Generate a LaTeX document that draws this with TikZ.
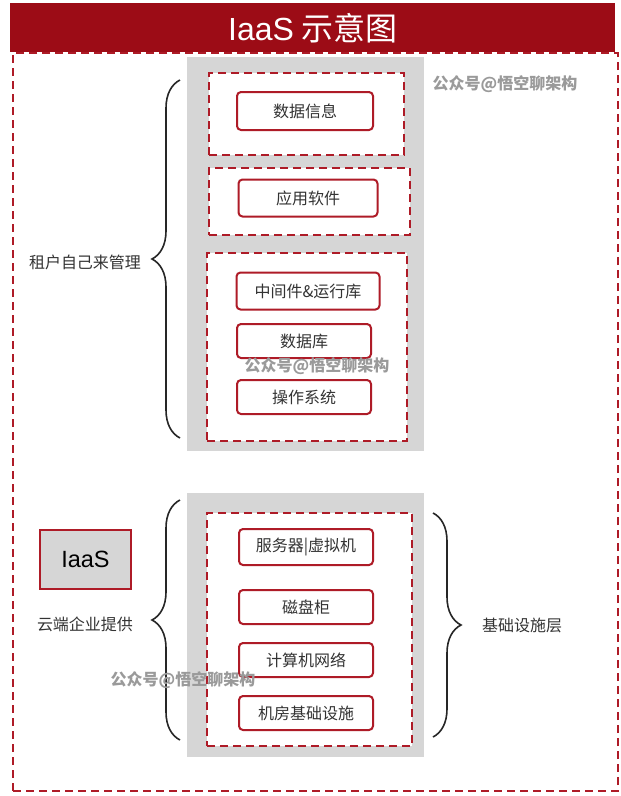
\documentclass[tikz,border=0pt]{standalone}
\usepackage{fontspec}
\setmainfont{Noto Sans CJK SC}
\newfontfamily\latinfont{Liberation Sans}
\usepackage{tikz}
\usetikzlibrary{positioning,decorations.pathreplacing}
\definecolor{IaasRed}{HTML}{9C0C16}
\definecolor{IaasBoxRed}{HTML}{AE1B27}
\definecolor{IaasGray}{HTML}{D6D6D6}
\definecolor{IaasText}{HTML}{333333}
\definecolor{IaasMark}{HTML}{9A9A9A}
\newcommand{\labelsize}{\fontsize{16}{18}\selectfont}

\begin{document}
\begin{tikzpicture}[x=1pt,y=-1pt,
    item/.style={rounded corners=4pt,draw=IaasBoxRed,line width=2pt,fill=white,minimum width=134pt,minimum height=35pt,inner sep=0pt,font=\labelsize,text=IaasText},
    layer/.style={draw=IaasBoxRed,line width=2pt,dash pattern=on 8pt off 5pt,fill=white,inner sep=0pt,anchor=north west},
    panel/.style={fill=IaasGray,inner sep=0pt,anchor=north west},
    brc/.style={decorate,decoration={brace,amplitude=28pt},line width=1.6pt,draw=black!85},
    side/.style={font=\labelsize,text=IaasText},
    wmark/.style={font=\bfseries\labelsize,text=IaasMark}
  ]
    \useasboundingbox[fill=white] (0,0) rectangle (621,796);
    % frame and title
    \node[layer,fill=none,minimum width=605pt,minimum height=738pt] (frame) at (12,52) {};
    \node[fill=IaasRed,anchor=north west,inner sep=0pt,minimum width=605pt,minimum height=49pt,text=white,font=\fontsize{32}{36}\selectfont] (title) at (10,3) {{\latinfont IaaS} 示意图};

    % tenant part
    \node[panel,minimum width=237pt,minimum height=394pt] (upanel) at (187,57) {};
    \node[layer,minimum width=195pt,minimum height=82pt] (dataL) at (208,72) {};
    \node[layer,minimum width=201pt,minimum height=67pt] (appL) at (208,167) {};
    \node[layer,minimum width=200pt,minimum height=188pt] (runL) at (206,252) {};
    \node[item,minimum width=136pt,minimum height=38pt] (data) at (305,111) {数据信息};
    \node[item,minimum width=139pt,minimum height=37pt] (app) at (308,198) {应用软件};
    \node[item,minimum width=143pt,minimum height=37pt] (mid) at (308,291) {中间件\&运行库};
    \node[item,minimum height=34pt] (db) at (304,341) {数据库};
    \node[item,minimum height=34pt] (os) at (304,397) {操作系统};

    % provider part
    \node[panel,minimum width=237pt,minimum height=264pt] (lpanel) at (187,493) {};
    \node[layer,minimum width=205pt,minimum height=233pt] (infraL) at (206,512) {};
    \node[item,minimum height=36pt] (server) at (306,547) {服务器|虚拟机};
    \node[item,minimum height=34pt] (disk) at (306,607) {磁盘柜};
    \node[item,minimum height=34pt] (net) at (306,660) {计算机网络};
    \node[item,minimum height=34pt] (room) at (306,713) {机房基础设施};

    \node[draw=IaasBoxRed,fill=IaasGray,line width=2pt,anchor=north west,inner sep=0pt,minimum width=91pt,minimum height=59pt,font=\latinfont\fontsize{23.5}{26}\selectfont] (tag) at (39,529) {IaaS};

    % braces
    \coordinate (tenantTop) at (180,80);
    \coordinate (tenantBot) at (180,438);
    \coordinate (cloudTop) at (180,500);
    \coordinate (cloudBot) at (180,740);
    \coordinate (infraTop) at (433,513);
    \coordinate (infraBot) at (433,737);
    \draw[brc] (tenantBot) -- (tenantTop);
    \draw[brc] (cloudBot) -- (cloudTop);
    \draw[brc] (infraTop) -- (infraBot);
    \node[side] (tenant) at (85,262) {租户自己来管理};
    \node[side] (cloud) at (85,624) {云端企业提供};
    \node[side] (infra) at (522,625) {基础设施层};

    % watermarks
    \node[wmark] (markA) at (505,84) {公众号@悟空聊架构};
    \node[wmark] (markB) at (317,366) {公众号@悟空聊架构};
    \node[wmark] (markC) at (183,680) {公众号@悟空聊架构};
  \end{tikzpicture}
\end{document}
